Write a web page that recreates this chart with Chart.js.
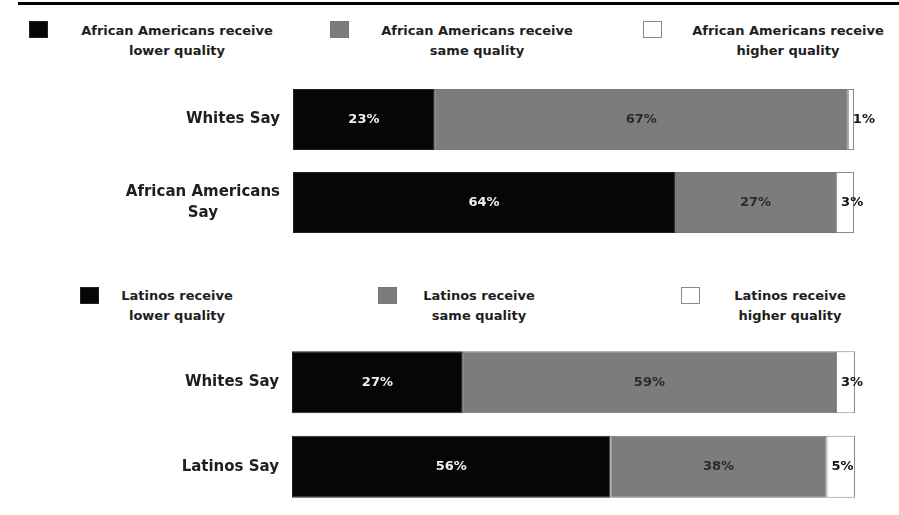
<!DOCTYPE html>
<html>
<head>
<meta charset="utf-8">
<script src="https://cdn.jsdelivr.net/npm/chart.js@4"></script>
<style>
    body { margin: 0; width: 899px; height: 515px; background: #fff; position: relative; overflow: hidden;
           font-family: "DejaVu Sans", sans-serif; font-weight: bold; color: #1e1e1e; }
    .rule { position: absolute; left: 18px; right: 0; top: 2px; height: 3px; background: #000; }
    .lg-box { position: absolute; width: 19px; height: 17px; box-sizing: border-box; }
    .lg-text { position: absolute; width: 240px; margin-left: -120px; text-align: center; font-size: 13px; line-height: 20px; }
    .chart-wrap { position: absolute; left: 0; width: 899px; height: 195px; }
</style>
</head>
<body>
<div class="rule"></div>
<div id="legend1"></div>
<div id="legend2"></div>
<div class="chart-wrap" style="top:60px"><canvas id="chartAA"></canvas></div>
<div class="chart-wrap" style="top:320px"><canvas id="chartLat"></canvas></div>

<script>
// Data
const categoriesAA = ['Whites Say', ['African Americans', 'Say']];
const lowerAA = [23, 64];
const sameAA = [67, 27];
const higherAA = [1, 3];
const legendAA = [
    ['African Americans receive', 'lower quality'],
    ['African Americans receive', 'same quality'],
    ['African Americans receive', 'higher quality']
];

const categoriesLat = ['Whites Say', 'Latinos Say'];
const lowerLat = [27, 56];
const sameLat = [59, 38];
const higherLat = [3, 5];
const legendLat = [
    ['Latinos receive', 'lower quality'],
    ['Latinos receive', 'same quality'],
    ['Latinos receive', 'higher quality']
];

const COLORS = ['#060606', '#7c7c7c', '#ffffff'];
const BORDERS = ['#222', '#777', '#8a8a8a'];
const LABEL_COLORS = ['#f0f0f0', '#2a2a2a', '#111'];
const FONT = '"DejaVu Sans", sans-serif';

function buildLegend(id, items, boxX, boxY, textX, textY) {
    const el = document.getElementById(id);
    items.forEach((lines, i) => {
        const box = document.createElement('div');
        box.className = 'lg-box';
        box.style.left = boxX[i] + 'px';
        box.style.top = boxY + 'px';
        box.style.background = COLORS[i];
        box.style.border = '1px solid ' + BORDERS[i];
        el.appendChild(box);
        const txt = document.createElement('div');
        txt.className = 'lg-text';
        txt.style.left = textX[i] + 'px';
        txt.style.top = textY + 'px';
        txt.innerHTML = lines.join('<br>');
        el.appendChild(txt);
    });
}

buildLegend('legend1', legendAA, [29, 330, 643], 21, [177, 477, 788], 21);
buildLegend('legend2', legendLat, [80, 378, 681], 287, [177, 479, 790], 286);

// category labels, each line centred within the block, block right-aligned to the bars
const categoryLabels = {
    id: 'categoryLabels',
    afterDraw(chart) {
        const ctx = chart.ctx;
        const yScale = chart.scales.y;
        const right = chart.chartArea.left - 13;
        ctx.save();
        ctx.font = 'bold 15px ' + FONT;
        ctx.fillStyle = '#1e1e1e';
        ctx.textAlign = 'center';
        ctx.textBaseline = 'middle';
        chart.data.labels.forEach((lab, i) => {
            const lines = Array.isArray(lab) ? lab : [lab];
            const w = Math.max(...lines.map(l => ctx.measureText(l).width));
            const cx = right - w / 2;
            const yc = yScale.getPixelForValue(i);
            const lh = 21;
            lines.forEach((l, j) => {
                ctx.fillText(l, cx, yc + (j - (lines.length - 1) / 2) * lh);
            });
        });
        ctx.restore();
    }
};

// value labels on the segments
const valueLabels = {
    id: 'valueLabels',
    afterDatasetsDraw(chart) {
        const ctx = chart.ctx;
        ctx.save();
        ctx.font = 'bold 13px ' + FONT;
        ctx.textBaseline = 'middle';
        chart.data.datasets.forEach((ds, di) => {
            const meta = chart.getDatasetMeta(di);
            meta.data.forEach((bar, i) => {
                const txt = ds.raw[i] + '%';
                ctx.fillStyle = LABEL_COLORS[di];
                if (di === 2) {
                    ctx.textAlign = 'left';
                    ctx.fillText(txt, bar.base + 5, bar.y);
                } else {
                    ctx.textAlign = 'center';
                    ctx.fillText(txt, (bar.base + bar.x) / 2, bar.y);
                }
            });
        });
        ctx.restore();
    }
};

function makeChart(canvasId, labels, lower, same, higher, pad) {
    const totals = lower.map((v, i) => v + same[i] + higher[i]);
    const share = arr => arr.map((v, i) => v / totals[i] * 100);
    const series = [lower, same, higher];
    return new Chart(document.getElementById(canvasId), {
        type: 'bar',
        data: {
            labels: labels,
            datasets: series.map((arr, i) => ({
                data: share(arr),
                raw: arr,
                backgroundColor: COLORS[i],
                borderColor: BORDERS[i],
                borderWidth: 1,
                borderSkipped: false,
                barPercentage: 0.735,
                categoryPercentage: 1
            }))
        },
        options: {
            indexAxis: 'y',
            responsive: true,
            maintainAspectRatio: false,
            animation: false,
            layout: { padding: pad },
            plugins: { legend: { display: false }, tooltip: { enabled: false } },
            scales: {
                x: { stacked: true, min: 0, max: 100, display: false },
                y: { stacked: true, display: false }
            }
        },
        plugins: [categoryLabels, valueLabels]
    });
}

makeChart('chartAA', categoriesAA, lowerAA, sameAA, higherAA, { left: 293, right: 45, top: 18, bottom: 11 });
makeChart('chartLat', categoriesLat, lowerLat, sameLat, higherLat, { left: 292, right: 44, top: 20, bottom: 6 });
</script>
</body>
</html>
